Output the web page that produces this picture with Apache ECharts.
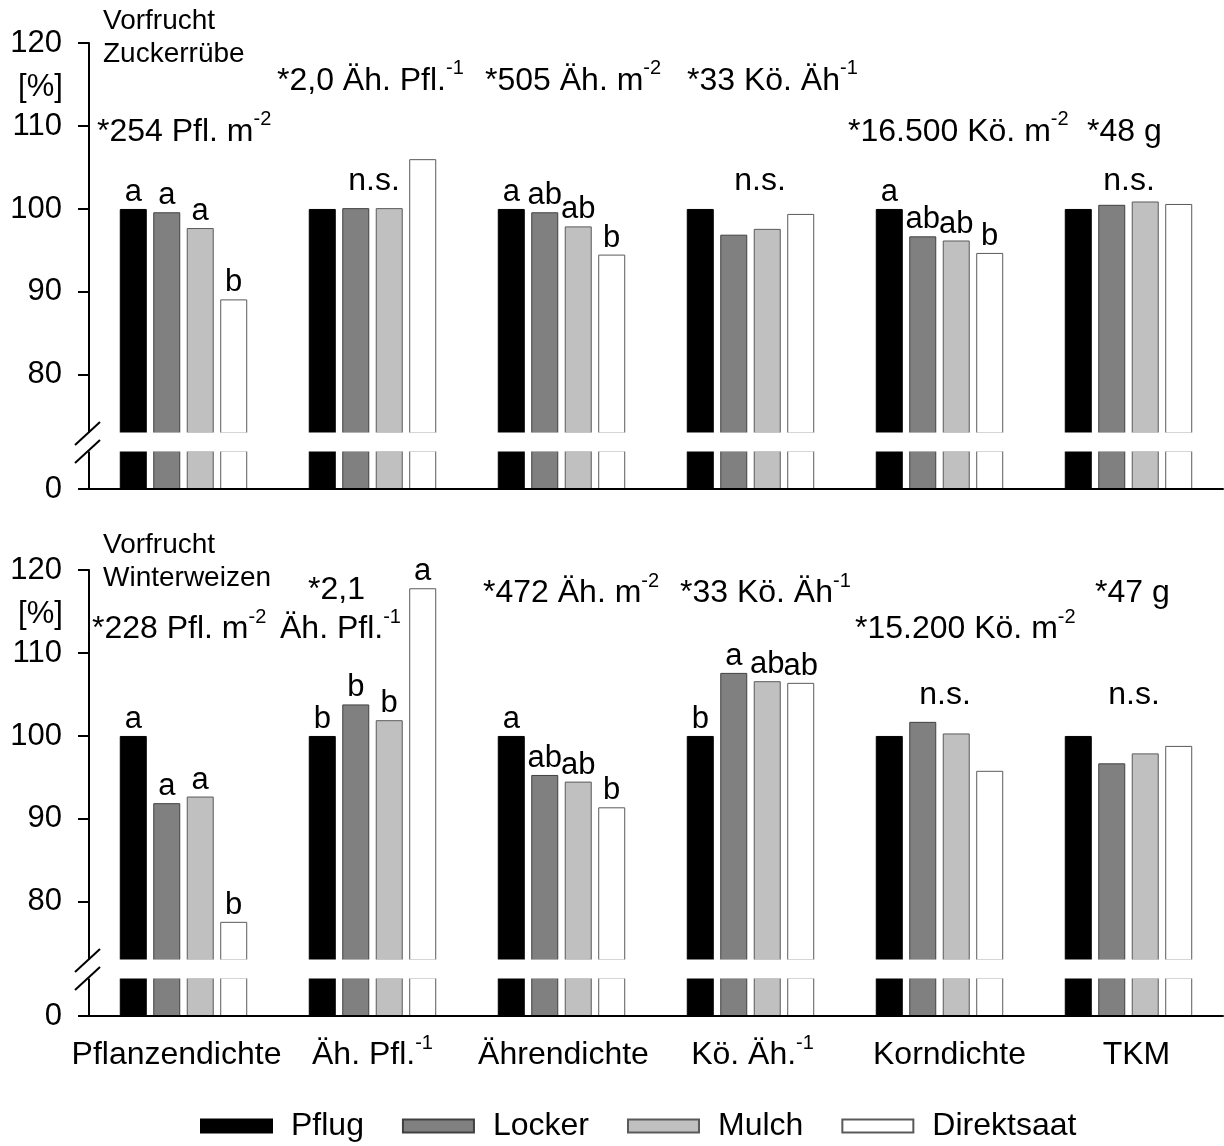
<!DOCTYPE html>
<html>
<head>
<meta charset="utf-8">
<script src="https://cdn.jsdelivr.net/npm/echarts@6/dist/echarts.min.js"></script>
<style>
html,body{margin:0;padding:0;background:#fff;}
#main{width:1224px;height:1146px;}
</style>
</head>
<body>
<div id="main"></div>
<script>
// ---------- DATA ----------
const categories = ['Pflanzendichte', 'Äh. Pfl.', 'Ährendichte', 'Kö. Äh.', 'Korndichte', 'TKM'];
const categorySup = ['', '-1', '', '-1', '', ''];
const seriesNames = ['Pflug', 'Locker', 'Mulch', 'Direktsaat'];
const yTickValues = [80, 90, 100, 110, 120];
const zeroTick = [0];

// Vorfrucht Zuckerrübe (upper panel), % of Pflug
const zrPflug  = [100, 100, 100, 100, 100, 100];
const zrLocker = [99.6, 100.1, 99.6, 96.9, 96.7, 100.5];
const zrMulch  = [97.7, 100.1, 97.9, 97.6, 96.2, 100.9];
const zrDirekt = [89.1, 106.0, 94.5, 99.4, 94.7, 100.6];
const zrLetPflug  = ['a', '', 'a', '', 'a', ''];
const zrLetLocker = ['a', '', 'ab', '', 'ab', ''];
const zrLetMulch  = ['a', '', 'ab', '', 'ab', ''];
const zrLetDirekt = ['b', '', 'b', '', 'b', ''];

// Vorfrucht Winterweizen (lower panel)
const wwPflug  = [100, 100, 100, 100, 100, 100];
const wwLocker = [91.9, 103.8, 95.3, 107.6, 101.7, 96.7];
const wwMulch  = [92.7, 101.9, 94.5, 106.6, 100.3, 97.9];
const wwDirekt = [77.6, 117.8, 91.4, 106.4, 95.8, 98.8];
const wwLetPflug  = ['a', 'b', 'a', 'b', '', ''];
const wwLetLocker = ['a', 'b', 'ab', 'a', '', ''];
const wwLetMulch  = ['a', 'b', 'ab', 'ab', '', ''];
const wwLetDirekt = ['b', 'a', 'b', 'ab', '', ''];

// Reference means (annotation texts: main part, superscript)
const zrNotes = [['*254 Pfl. m', '-2'], ['*2,0 Äh. Pfl.', '-1'], ['*505 Äh. m', '-2'], ['*33 Kö. Äh', '-1'], ['*16.500 Kö. m', '-2'], ['*48 g', '']];
const wwNotes = [['*228 Pfl. m', '-2'], ['*2,1', ''], ['Äh. Pfl.', '-1'], ['*472 Äh. m', '-2'], ['*33 Kö. Äh', '-1'], ['*15.200 Kö. m', '-2'], ['*47 g', '']];
const zrTitle = ['Vorfrucht', 'Zuckerrübe'];
const wwTitle = ['Vorfrucht', 'Winterweizen'];
const nsText = 'n.s.';
const unitText = '[%]';

// ---------- STYLE / LAYOUT ----------
const FONT = "'Liberation Sans', Arial, Helvetica, sans-serif";
const barColors  = ['#000000', '#808080', '#c0c0c0', '#ffffff'];
const barBorders = ['#000000', '#404040', '#5a5a5a', '#5a5a5a'];
const PANEL_OFF = [0, 527];

const zrNotePos = [[97, 143], [277, 92], [485, 92], [687, 92], [848, 143], [1087, 143]];
const wwNotePos = [[92, 640.5], [308, 601.5], [280, 640.5], [483, 604.5], [680, 604.5], [855, 640.5], [1095, 604.5]];
const zrNsPos = [[374, 192], [760, 192], [1129, 192]];
const wwNsPos = [[945, 706], [1134, 706]];
const catShift = [-7, 0, 2, 2, 10, 8];

const panels = [
  { values: [zrPflug, zrLocker, zrMulch, zrDirekt], letters: [zrLetPflug, zrLetLocker, zrLetMulch, zrLetDirekt] },
  { values: [wwPflug, wwLocker, wwMulch, wwDirekt], letters: [wwLetPflug, wwLetLocker, wwLetMulch, wwLetDirekt] }
];

const grids = [], xAxes = [], yAxes = [], series = [];

// category label rich styles (superscripts, small shifts)
const catRich = {};
categories.forEach((c, i) => {
  const s = catShift[i];
  const padL = s > 0 ? 2 * s : 0;
  const padR = s < 0 ? -2 * s : 0;
  const hasSup = !!categorySup[i];
  catRich['m' + i] = { fontSize: 32, lineHeight: 44, fontFamily: FONT, color: '#000', padding: [0, hasSup ? 0 : padR, 0, padL] };
  catRich['s' + i] = { fontSize: 20, lineHeight: 20, fontFamily: FONT, color: '#000', verticalAlign: 'top', padding: [0, padR, 0, 0] };
});

panels.forEach((pn, p) => {
  const off = PANEL_OFF[p];
  const gu = p * 2, gl = p * 2 + 1;
  grids.push({ left: 89, width: 1134, top: 43 + off, height: 390, containLabel: false, outerBoundsMode: 'none' });
  grids.push({ left: 89, width: 1134, top: 451 + off, height: 38, containLabel: false, outerBoundsMode: 'none' });

  xAxes.push({ type: 'category', gridIndex: gu, data: categories, show: false });
  xAxes.push({
    type: 'category', gridIndex: gl, data: categories, z: 10,
    axisLine: { show: true, lineStyle: { color: '#000', width: 2 } },
    axisTick: { show: false },
    axisLabel: p === 1 ? {
      show: true, interval: 0, margin: 17,
      formatter: (v, i) => '{m' + i + '|' + v + '}' + (categorySup[i] ? '{s' + i + '|' + categorySup[i] + '}' : ''),
      rich: catRich
    } : { show: false }
  });

  const yCommon = {
    type: 'value', splitLine: { show: false },
    axisLine: { show: true, lineStyle: { color: '#000', width: 2 } }
  };
  yAxes.push(Object.assign({}, yCommon, {
    gridIndex: gu, min: 73, max: 120,
    axisTick: { show: true, length: 11, lineStyle: { color: '#000', width: 2 }, customValues: yTickValues },
    axisLabel: { customValues: yTickValues, margin: 27, fontSize: 31, color: '#000', fontFamily: FONT }
  }));
  yAxes.push(Object.assign({}, yCommon, {
    gridIndex: gl, min: 0, max: 10,
    axisTick: { show: true, length: 11, lineStyle: { color: '#000', width: 2 }, customValues: zeroTick },
    axisLabel: { customValues: zeroTick, margin: 27, fontSize: 31, color: '#000', fontFamily: FONT }
  }));

  seriesNames.forEach((name, k) => {
    const base = {
      type: 'bar', name: name, barWidth: 27, barGap: '24%', silent: true,
      itemStyle: { color: barColors[k], borderColor: barBorders[k], borderWidth: 1 },
      data: pn.values[k]
    };
    series.push(Object.assign({}, base, {
      xAxisIndex: gu, yAxisIndex: gu,
      label: {
        show: true, position: 'top', distance: 1, fontSize: 31, lineHeight: 31,
        fontFamily: FONT, color: '#000',
        formatter: (prm) => pn.letters[k][prm.dataIndex]
      }
    }));
    series.push(Object.assign({}, base, { xAxisIndex: gl, yAxisIndex: gl, label: { show: false } }));
  });
});

// ---------- GRAPHIC TEXT / BREAK MARKS ----------
function richText(x, baseline, main, sup, size, align) {
  const text = '{m|' + main + '}' + (sup ? '{s|' + sup + '}' : '');
  return {
    type: 'text', x: x, y: baseline - 0.35 * size, z: 100, silent: true,
    style: {
      text: text, align: align || 'left', verticalAlign: 'middle',
      rich: {
        m: { fontSize: size, lineHeight: size + 12, fontFamily: FONT, fill: '#000' },
        s: { fontSize: 20, lineHeight: 20, fontFamily: FONT, fill: '#000', verticalAlign: 'top' }
      }
    }
  };
}
const graphics = [];
PANEL_OFF.forEach((off) => {
  graphics.push({ type: 'rect', silent: true, z: 50, shape: { x: 80, y: 432.5 + off, width: 1144, height: 19 }, style: { fill: '#fff' } });
  graphics.push({ type: 'line', silent: true, z: 60, shape: { x1: 75, y1: 445 + off, x2: 100, y2: 422 + off }, style: { stroke: '#000', lineWidth: 2 } });
  graphics.push({ type: 'line', silent: true, z: 60, shape: { x1: 75, y1: 463 + off, x2: 100, y2: 440 + off }, style: { stroke: '#000', lineWidth: 2 } });
  graphics.push(richText(40.5, 88 + 10.5 + off, unitText, '', 31, 'center'));
});
graphics.push(richText(103, 31, zrTitle[0], '', 28));
graphics.push(richText(103, 64, zrTitle[1], '', 28));
graphics.push(richText(103, 555, wwTitle[0], '', 28));
graphics.push(richText(103, 588, wwTitle[1], '', 28));
zrNotes.forEach((n, i) => graphics.push(richText(zrNotePos[i][0], zrNotePos[i][1], n[0], n[1], 32)));
wwNotes.forEach((n, i) => graphics.push(richText(wwNotePos[i][0], wwNotePos[i][1], n[0], n[1], 32)));
zrNsPos.forEach((q) => graphics.push(richText(q[0], q[1], nsText, '', 32, 'center')));
wwNsPos.forEach((q) => graphics.push(richText(q[0], q[1], nsText, '', 32, 'center')));

const chart = echarts.init(document.getElementById('main'), null, { renderer: 'canvas' });
chart.setOption({
  animation: false,
  backgroundColor: '#fff',
  textStyle: { fontFamily: FONT },
  grid: grids,
  xAxis: xAxes,
  yAxis: yAxes,
  legend: {
    data: seriesNames, selectedMode: false, icon: 'rect',
    left: 200, top: 1110, padding: 0,
    itemWidth: 71, itemHeight: 13, itemGap: 38,
    textStyle: { fontSize: 32, lineHeight: 32, fontFamily: FONT, color: '#000', padding: [0, 0, 0, 14] }
  },
  series: series,
  graphic: { elements: graphics }
});
</script>
</body>
</html>
